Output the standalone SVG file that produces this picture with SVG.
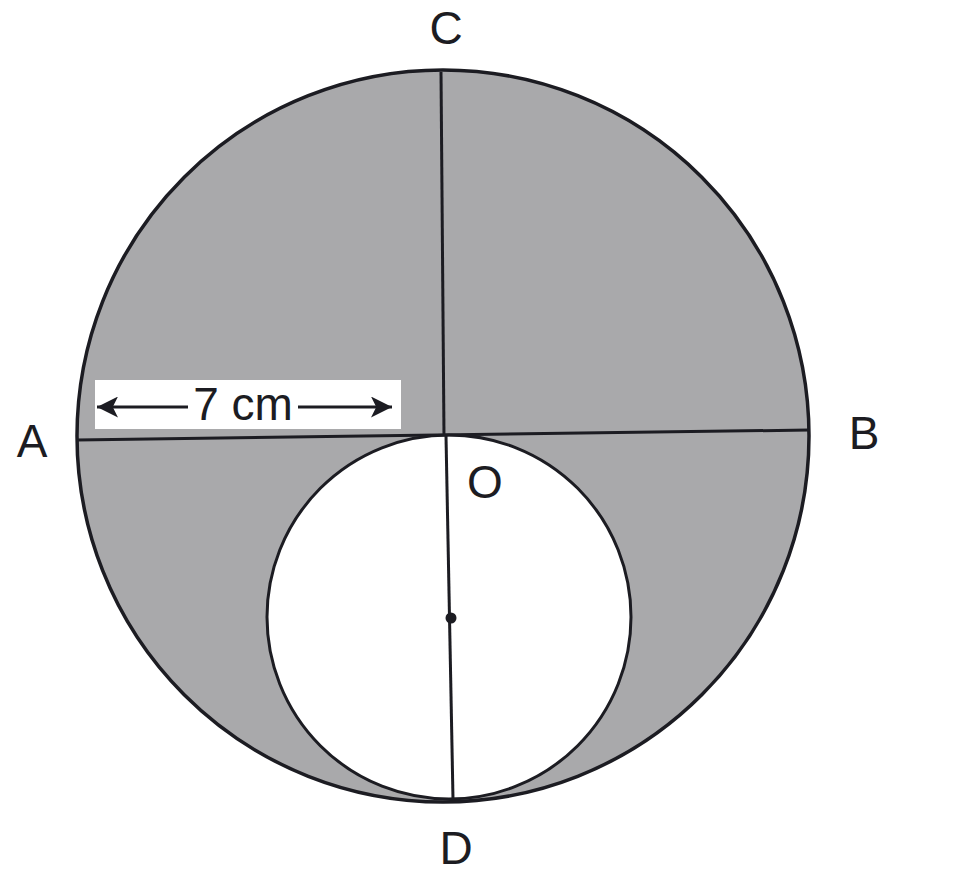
<svg xmlns="http://www.w3.org/2000/svg" width="965" height="877" viewBox="0 0 965 877">
<style>
.ln{stroke:#1c1c22;stroke-width:3;fill:none}
.lbl{font-family:"Liberation Sans",Arial,sans-serif;font-size:46px;fill:#1c1c22;text-anchor:middle}
</style>
<defs>
<marker id="ah" viewBox="0 0 10 10" refX="10" refY="5" markerWidth="8" markerHeight="7" orient="auto-start-reverse" markerUnits="strokeWidth">
<path d="M0,0 L10,5 L0,10 L2.5,5 Z" fill="#1c1c22"/>
</marker>
</defs>
<rect width="965" height="877" fill="#ffffff"/>
<g id="big-circle">
<circle cx="443" cy="436" r="366" fill="#a9a9ab" stroke="#1c1c22" stroke-width="3.5"/>
</g>
<g id="small-circle">
<circle cx="449" cy="617" r="182" fill="#ffffff" stroke="#1c1c22" stroke-width="3"/>
<circle cx="451" cy="618" r="5.5" fill="#1c1c22"/>
</g>
<g id="connectors">
<line class="ln" x1="77" y1="440" x2="809" y2="430"/>
<line class="ln" x1="441" y1="72" x2="444" y2="436"/>
<line class="ln" x1="446" y1="436" x2="453" y2="799"/>
</g>
<g id="dimension">
<rect x="95" y="380" width="306" height="49" fill="#ffffff"/>
<line class="ln" x1="188" y1="407" x2="97" y2="407" stroke-width="2.5" marker-end="url(#ah)"/>
<line class="ln" x1="298" y1="407" x2="392" y2="407" stroke-width="2.5" marker-end="url(#ah)"/>
<text class="lbl" x="243" y="420" font-size="44">7 cm</text>
</g>
<g id="labels">
<text class="lbl" x="446" y="44">C</text>
<text class="lbl" x="32" y="457">A</text>
<text class="lbl" x="864" y="449">B</text>
<text class="lbl" x="485" y="498">O</text>
<text class="lbl" x="456" y="864">D</text>
</g>
</svg>
